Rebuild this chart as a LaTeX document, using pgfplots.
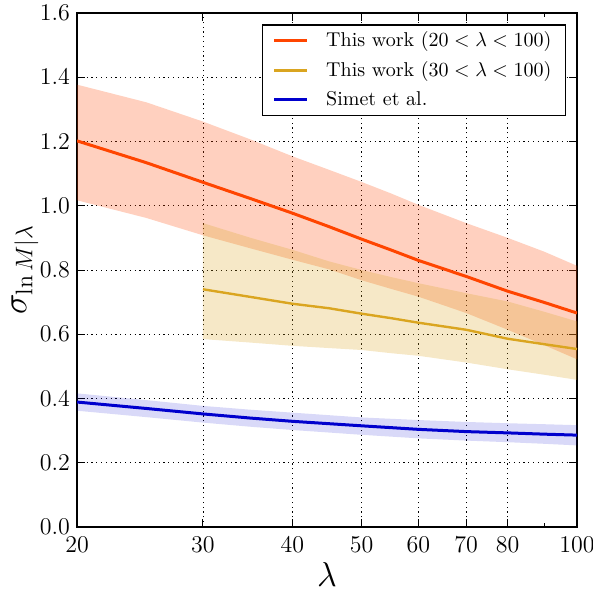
\documentclass[border=0pt]{standalone}
\usepackage{pgfplots}
\pgfplotsset{compat=1.18}

\definecolor{cred}{RGB}{255,69,0}
\definecolor{cyel}{RGB}{218,165,32}
\definecolor{cblue}{RGB}{0,0,205}

\begin{document}
\begin{tikzpicture}
\useasboundingbox (-38.5pt,-31.5pt) rectangle (258pt,263.5pt);
\begin{axis}[
  at={(0,0)}, anchor=south west,
  scale only axis, width=250pt, height=257pt,
  xmode=log, xmin=20, xmax=100, ymin=0, ymax=1.6,
  xtick={20,30,40,50,60,70,80,100},
  xticklabels={20,30,40,50,60,70,80,100},
  minor xtick={90},
  ytick={0,0.2,0.4,0.6,0.8,1.0,1.2,1.4,1.6},
  yticklabel style={/pgf/number format/.cd,fixed,fixed zerofill,precision=1},
  ticklabel style={font=\large},
  xticklabel style={yshift=-1pt},
  tick align=inside,
  major tick length=4pt, minor tick length=2pt,
  every tick/.style={black, line width=0.5pt},
  axis line style={line width=0.6pt},
  grid=major,
  major grid style={black, line width=0.45pt, dash pattern=on 0.6pt off 1.8pt},
  xlabel={$\lambda$},
  ylabel={$\sigma_{\ln M|\lambda}$},
  every axis x label/.style={at={(axis description cs:0.5,0)}, anchor=center, yshift=-23.5pt, font=\LARGE},
  every axis y label/.style={at={(axis description cs:0,0.5)}, anchor=center, rotate=90, yshift=26pt, inner sep=0pt, font=\LARGE},
  legend style={at={(0.978,0.978)}, anchor=north east, draw=black, line width=0.6pt,
    font=\normalsize, inner xsep=5pt, inner ysep=1.5pt, row sep=1.8pt,
    /tikz/every odd column/.append style={column sep=7pt},
    cells={anchor=west}},
  legend image code/.code={\draw[#1] (0pt,0pt) -- (16.3pt,0pt);},
  legend cell align=left,
]
% red band: upper edge then lower edge reversed
\addplot[fill=cred, fill opacity=0.25, draw=none, forget plot] coordinates {
(20,1.377) (25,1.322) (30,1.262) (35,1.206) (40,1.154) (45,1.112) (50,1.074)
(55,1.038) (60,1.003) (70,0.946) (80,0.900) (90,0.857) (100,0.813)
(100,0.522) (90,0.566) (80,0.614) (70,0.666) (60,0.717) (55,0.741) (50,0.768)
(45,0.802) (40,0.832) (35,0.867) (30,0.908) (25,0.962) (20,1.017)} -- cycle;
% yellow band
\addplot[fill=cyel, fill opacity=0.25, draw=none, forget plot] coordinates {
(30,0.946) (35,0.900) (40,0.863) (45,0.827) (50,0.800) (55,0.778) (60,0.759)
(70,0.728) (80,0.702) (90,0.670) (100,0.640)
(100,0.458) (90,0.474) (80,0.491) (70,0.512) (60,0.533) (55,0.541) (50,0.551)
(45,0.557) (40,0.564) (35,0.574) (30,0.585)} -- cycle;
% blue band
\addplot[fill=cblue, fill opacity=0.15, draw=none, forget plot] coordinates {
(20,0.416) (25,0.395) (30,0.377) (35,0.365) (40,0.356) (50,0.341) (60,0.333)
(70,0.327) (80,0.323) (90,0.320) (100,0.317)
(100,0.254) (90,0.259) (80,0.264) (70,0.269) (60,0.276) (50,0.287) (40,0.302)
(35,0.312) (30,0.325) (25,0.342) (20,0.362)} -- cycle;
% lines
\addplot[cred, line width=1.5pt] coordinates {
(20,1.202) (25,1.134) (30,1.073) (35,1.022) (40,0.977) (45,0.935) (50,0.896)
(55,0.862) (60,0.830) (70,0.780) (80,0.734) (90,0.699) (100,0.666)};
\addlegendentry{This work ($20 < \lambda < 100$)}
\addplot[cyel, line width=1.2pt] coordinates {
(30,0.740) (35,0.716) (40,0.695) (45,0.681) (50,0.664) (55,0.650) (60,0.636)
(70,0.614) (80,0.586) (90,0.569) (100,0.554)};
\addlegendentry{This work ($30 < \lambda < 100$)}
\addplot[cblue, line width=1.5pt] coordinates {
(20,0.389) (25,0.369) (30,0.352) (35,0.339) (40,0.329) (50,0.315) (60,0.304)
(70,0.297) (80,0.293) (90,0.289) (100,0.286)};
\addlegendentry{Simet et al.}
\end{axis}
\end{tikzpicture}
\end{document}
